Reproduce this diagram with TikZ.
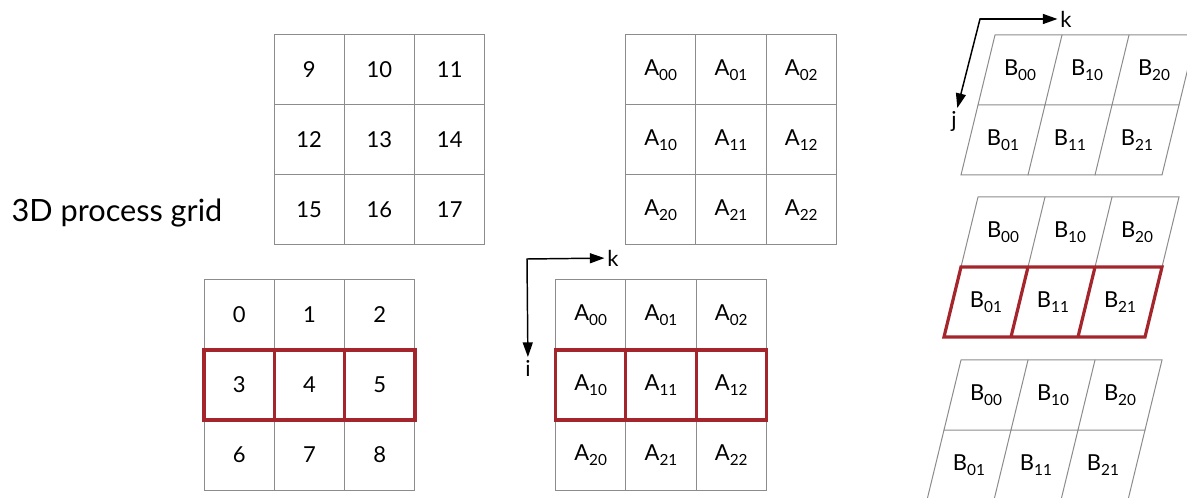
\documentclass[tikz,border=0pt]{standalone}
\usepackage{fontspec}
\setmainfont{Lato}
\usetikzlibrary{arrows.meta}
\definecolor{cgrid}{HTML}{8C8C8C}
\definecolor{cred}{HTML}{A4262C}
% block label with lowered index
\newcommand{\blk}[2]{#1\raisebox{-0.4ex}{\fontsize{11.5}{12}\selectfont #2}}

\begin{document}
\begin{tikzpicture}[x=0.75pt, y=-0.75pt, line cap=round, line join=miter,
  cell/.style={draw=cgrid, line width=0.75pt, minimum width=52.725pt, minimum height=52.5pt,
    inner sep=0pt, outer sep=0pt, font=\fontsize{16.5}{19}\selectfont},
  skew/.style={draw=cgrid, line width=0.75pt},
  hl/.style={draw=cred, line width=2.4pt},
  lbl/.style={font=\fontsize{16.5}{19}\selectfont, inner sep=2pt},
  axis/.style={-{Triangle[length=11pt,width=7.5pt]}, line width=1.1pt}]
  \clip (0,0) rectangle (1187,498);
  \fill[white] (0,0) rectangle (1187,498);

  \node[font=\fontsize{23}{28}\selectfont] (title) at (117,213) {3D process grid};

  % ---------- process grid, two layers ----------
  \foreach \r in {0,1,2} \foreach \c in {0,1,2} {
    \pgfmathtruncatemacro{\n}{9+3*\r+\c}
    \node[cell] (p\n) at (274+70.3*\c+35.15, 35+70*\r+35) {\n};
    \pgfmathtruncatemacro{\m}{3*\r+\c}
    \node[cell] (p\m) at (204+70.3*\c+35.15, 280+70*\r+35) {\m};
  }
  \foreach \n in {3,4,5}
    \draw[hl] (p\n.north west) rectangle (p\n.south east);

  % ---------- A blocks ----------
  \foreach \r in {0,1,2} \foreach \c in {0,1,2} {
    \node[cell] (at\r\c) at (625.5+70.3*\c+35.15, 35+70*\r+35) {\blk{A}{\r\c}};
    \node[cell] (ab\r\c) at (555.5+70.3*\c+35.15, 280+70*\r+35) {\blk{A}{\r\c}};
  }
  \foreach \c in {0,1,2}
    \draw[hl] (ab1\c.north west) rectangle (ab1\c.south east);

  \coordinate (ocA) at (527,259);
  \node[lbl] (kA) at (613,258) {k};
  \node[lbl] (iA) at (528,368) {i};
  \draw[axis] (ocA) -- (kA);
  \draw[axis] (ocA) -- (iA);

  % ---------- B blocks (sheared) ----------
  \foreach \name/\ox/\oy in {bt/995/35, bm/978/197, bb/961/360} {
    \begin{scope}[shift={(\ox,\oy)}, xslant=0.243]
      \draw[skew] (0,0) rectangle (201,140);
      \draw[skew] (67,0) -- (67,140) (134,0) -- (134,140) (0,70) -- (201,70);
      \foreach \r in {0,1} \foreach \c in {0,1,2}
        \node[lbl] (\name\c\r) at (67*\c+33.5, 70*\r+35) {\blk{B}{\c\r}};
    \end{scope}
  }
  \begin{scope}[shift={(978,197)}, xslant=0.243]
    \draw[hl] (0,70) rectangle (201,140) (67,70) -- (67,140) (134,70) -- (134,140);
  \end{scope}

  \coordinate (ocB) at (980,19);
  \node[lbl] (kB) at (1066,19) {k};
  \node[lbl] (jB) at (954,121) {j};
  \draw[axis] (ocB) -- (kB);
  \draw[axis] (ocB) -- (jB);
\end{tikzpicture}
\end{document}
